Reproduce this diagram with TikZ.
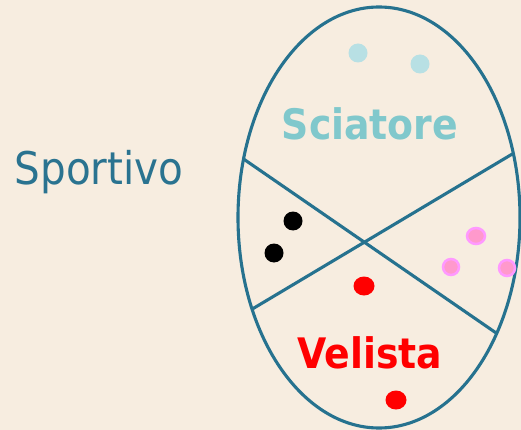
\documentclass[tikz,border=0pt]{standalone}
\usepackage{fontspec}
\setmainfont{DejaVu Sans Condensed}
\definecolor{bg}{HTML}{F7EDE0}
\definecolor{edge}{HTML}{26728F}
\definecolor{sport}{HTML}{2A7390}
\definecolor{sci}{HTML}{80C8CC}
\definecolor{scidot}{HTML}{B8E0E4}
\definecolor{pinkout}{HTML}{FF99FF}
\definecolor{pinkin}{HTML}{FF99CC}
\begin{document}
\begin{tikzpicture}[x=1pt,y=-1pt,
  outline/.style={draw=edge,line width=3.1pt},
  dotc/.style={fill=scidot},
  dotk/.style={fill=black},
  dotr/.style={fill=red},
  dotp/.style={fill=pinkin,draw=pinkout,line width=2.5pt}]
\fill[bg] (0,0) rectangle (521,430);
\useasboundingbox (0,0) rectangle (521,430);
\begin{scope}
  \clip (379,217.5) ellipse [x radius=141, y radius=210.5];
  \draw[outline] (245,160) -- ++(-20,-13.77) (245,160) -- (540,363.2);
  \draw[outline] (254,308) -- ++(-30,17.9) (254,308) -- (545,134.5);
\end{scope}
\draw[outline] (379,217.5) ellipse [x radius=141, y radius=210.5];
\node[text=sport,font=\fontsize{45}{50}\selectfont,anchor=base] (sportivo) at (99,185) {Sportivo};
\node[text=sci,font=\bfseries\fontsize{42}{48}\selectfont,anchor=base] (sciatore) at (370,140) {Sciatore};
\node[text=red,font=\bfseries\fontsize{42}{48}\selectfont,anchor=base] (velista) at (370,368) {Velista};
\fill[dotc] (358,53) circle (9.5);
\fill[dotc] (420,64) circle (9.5);
\fill[dotk] (293,221) circle (9.5);
\fill[dotk] (274,253) circle (9.5);
\fill[dotr] (364,286) ellipse [x radius=10.5, y radius=9.5];
\fill[dotr] (396,400) ellipse [x radius=10.5, y radius=9.5];
\filldraw[dotp] (476,236) ellipse [x radius=9, y radius=8];
\filldraw[dotp] (451,267) circle (8);
\filldraw[dotp] (507,268) circle (8);
\end{tikzpicture}
\end{document}
